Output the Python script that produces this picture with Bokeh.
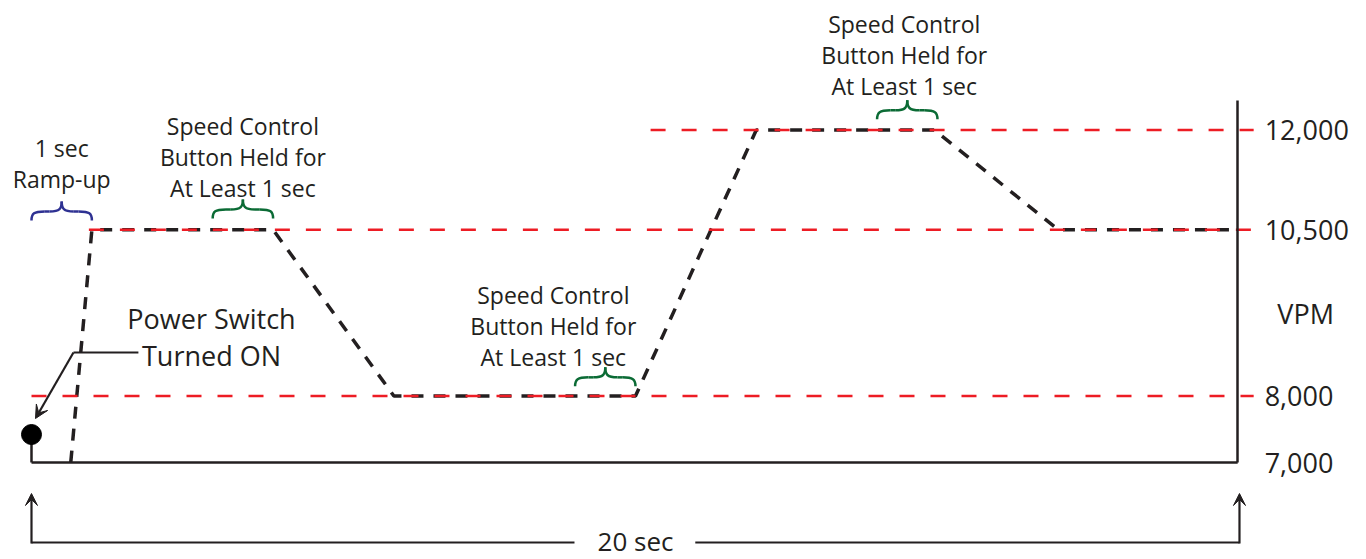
from bokeh.plotting import figure
from bokeh.models import (LinearAxis, FixedTicker, NumeralTickFormatter, Range1d,
                          Arrow, VeeHead)
from bokeh.core.properties import value
from bokeh.embed import file_html
from bokeh.resources import INLINE

# ---------------- data ----------------
time_s = [0.65, 1.0, 4.0, 6.0, 10.0, 12.0, 14.95, 17.0, 19.9]
vpm = [7000, 10500, 10500, 8000, 8000, 12000, 12000, 10500, 10500]

level_vpm = [8000, 10500, 12000]
level_from = [0.0, 0.95, 10.25]

tick_values = [7000, 8000, 10500, 12000]
total_time = 20
power_on_time = 0.0

brace_start = [0.0, 3.0, 9.0, 14.0]
brace_end = [1.0, 4.0, 10.0, 15.0]

note_text = [
    ["1 sec", "Ramp-up"],
    ["Speed Control", "Button Held for", "At Least 1 sec"],
    ["Speed Control", "Button Held for", "At Least 1 sec"],
    ["Speed Control", "Button Held for", "At Least 1 sec"],
]
power_text = ["Power Switch", "Turned ON"]
unit_text = "VPM"
span_text = "20 sec"

# ---------------- layout / style ----------------
INK = "#231f20"
RED = "#ed1c24"
FONT = value("Open Sans")
PX_T = 60.4          # pixels per second
PX_V = 0.0665        # pixels per VPM

def dv(px):
    return px / PX_V

def dt(px):
    return px / PX_T

brace_base = [10640, 10670, 8145, 12160]
brace_color = ["#2e3192", "#0b6b35", "#0b6b35", "#0b6b35"]
note_x = [0.5, 3.5, 8.64, 14.45]
note_top = [11729, 12053, 9526, 13601]
note_step = [dv(30.5), dv(31), dv(31), dv(31)]

p = figure(width=1366, height=559,
           x_range=Range1d(-0.5132, 22.103), y_range=Range1d(5541.4, 13947.4),
           x_axis_type=None, y_axis_type=None, toolbar_location=None,
           output_backend="svg", min_border=0, outline_line_color=None)
p.background_fill_color = "white"
p.border_fill_color = "white"

axis_t = 19.97

# speed profile (dashed black)
p.line(time_s, vpm, line_width=3.5, line_color=INK, line_dash="12 10")

# reference speed levels (red dashed)
p.segment(x0=level_from, y0=level_vpm, x1=[axis_t + dt(16)] * len(level_vpm), y1=level_vpm,
          line_color=RED, line_width=2.5, line_dash="15 16")

# base line along 7000
p.segment(x0=[power_on_time], y0=[tick_values[0]], x1=[axis_t], y1=[tick_values[0]],
          line_color=INK, line_width=2.5)

# right axis
ax = LinearAxis(fixed_location=axis_t, bounds=(tick_values[0], 12444),
                ticker=FixedTicker(ticks=tick_values),
                formatter=NumeralTickFormatter(format="0,0"))
ax.axis_line_width = 2.5
ax.axis_line_color = INK
ax.major_tick_out = 0
ax.major_tick_in = 0
ax.minor_tick_out = 0
ax.minor_tick_in = 0
ax.major_label_standoff = 27
ax.major_label_text_font = "Open Sans"
ax.major_label_text_font_size = "27px"
ax.major_label_text_color = INK
p.add_layout(ax, "right")

p.text(x=[axis_t + dt(68)], y=[9241], text=[unit_text], text_font=FONT,
       text_font_size="27px", text_align="center", text_baseline="middle", text_color=INK)

# power-on dot and stem
dot_v = tick_values[0] + dv(28)
p.segment(x0=[power_on_time], y0=[dot_v], x1=[power_on_time], y1=[tick_values[0]],
          line_color=INK, line_width=2.5)
p.scatter(x=[power_on_time], y=[dot_v], size=20, fill_color="black", line_color="black")

# power switch label + leader
for i, s in enumerate(power_text):
    p.text(x=[2.98], y=[9165 - i * dv(37)], text=[s], text_font=FONT,
           text_font_size="27px", text_align="center", text_baseline="middle", text_color=INK)
lead_v = 8654
p.line([1.77, 0.695], [lead_v, lead_v], line_color=INK, line_width=2.2)
p.add_layout(Arrow(end=VeeHead(size=13, fill_color=INK, line_color=INK, line_width=1),
                   x_start=0.695, y_start=lead_v, x_end=power_on_time + dt(4), y_end=dot_v + dv(16),
                   line_color=INK, line_width=2.2))

# notes
for lines, x, top, step in zip(note_text, note_x, note_top, note_step):
    for j, s in enumerate(lines):
        p.text(x=[x], y=[top - j * step], text=[s], text_font=FONT,
               text_font_size="23px", text_align="center", text_baseline="middle",
               text_color=INK)

# curly braces
h = dv(19)
f = dv(9)
for x0, x1, yb, col in zip(brace_start, brace_end, brace_base, brace_color):
    W = x1 - x0
    xc = (x0 + x1) / 2
    bx0, by0, bx1, by1, c0x, c0y, c1x, c1y = [], [], [], [], [], [], [], []
    for sgn, xe in ((1, x0), (-1, x1)):
        # end hook
        bx0.append(xe); by0.append(yb)
        bx1.append(xe + sgn * 0.22 * W); by1.append(yb + f)
        c0x.append(xe); c0y.append(yb + 0.8 * f)
        c1x.append(xe + sgn * 0.04 * W); c1y.append(yb + f)
        # flat part
        bx0.append(xe + sgn * 0.22 * W); by0.append(yb + f)
        bx1.append(xc - sgn * 0.2 * W); by1.append(yb + f)
        c0x.append(xe + sgn * 0.3 * W); c0y.append(yb + f)
        c1x.append(xc - sgn * 0.28 * W); c1y.append(yb + f)
        # rise to peak
        bx0.append(xc - sgn * 0.2 * W); by0.append(yb + f)
        bx1.append(xc); by1.append(yb + h)
        c0x.append(xc - sgn * 0.03 * W); c0y.append(yb + f)
        c1x.append(xc); c1y.append(yb + f + 0.3 * (h - f))
    p.bezier(x0=bx0, y0=by0, x1=bx1, y1=by1, cx0=c0x, cy0=c0y, cx1=c1x, cy1=c1y,
             line_color=col, line_width=2.5)

# bottom 20 sec span
span_v = tick_values[0] - dv(80)
tip_v = tick_values[0] - dv(31)
mid = total_time / 2
p.segment(x0=[0, mid + 0.99], y0=[span_v, span_v], x1=[mid - 1.01, total_time], y1=[span_v, span_v],
          line_color=INK, line_width=2.2)
for xe in (0, total_time):
    p.add_layout(Arrow(end=VeeHead(size=12, fill_color=INK, line_color=INK, line_width=1),
                       x_start=xe, y_start=span_v - dv(1), x_end=xe, y_end=tip_v,
                       line_color=INK, line_width=2.2))
p.text(x=[mid], y=[span_v + dv(2)], text=[span_text], text_font=FONT, text_font_size="26px",
       text_align="center", text_baseline="middle", text_color=INK)

open("out.html", "w").write(file_html(p, INLINE))
